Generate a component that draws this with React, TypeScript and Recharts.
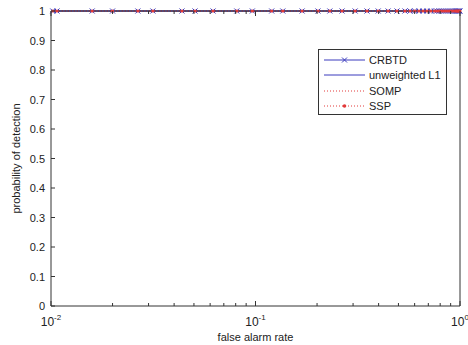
import React from 'react';
import { LineChart, Line, XAxis, YAxis, Legend } from 'recharts';

const falseAlarmRate = [
  0.0102, 0.0107, 0.0159, 0.02, 0.0266, 0.0315, 0.0437, 0.0506, 0.062, 0.081,
  0.0965, 0.12, 0.136, 0.169, 0.202, 0.231, 0.265, 0.307, 0.351, 0.398,
  0.445, 0.492, 0.538, 0.57, 0.6, 0.63, 0.66, 0.69, 0.72, 0.75,
  0.77, 0.79, 0.81, 0.83, 0.85, 0.87, 0.89, 0.91, 0.93, 0.95,
  0.96, 0.97, 0.98, 0.99, 1.0,
];

const crbtd = [
  1, 1, 1, 1, 1, 1, 1, 1, 1, 1,
  1, 1, 1, 1, 1, 1, 1, 1, 1, 1,
  1, 1, 1, 1, 1, 1, 1, 1, 1, 1,
  1, 1, 1, 1, 1, 1, 1, 1, 1, 1,
  1, 1, 1, 1, 1,
];
const unweightedL1 = [
  1, 1, 1, 1, 1, 1, 1, 1, 1, 1,
  1, 1, 1, 1, 1, 1, 1, 1, 1, 1,
  1, 1, 1, 1, 1, 1, 1, 1, 1, 1,
  1, 1, 1, 1, 1, 1, 1, 1, 1, 1,
  1, 1, 1, 1, 1,
];
const somp = [
  1, 1, 1, 1, 1, 1, 1, 1, 1, 1,
  1, 1, 1, 1, 1, 1, 1, 1, 1, 1,
  1, 1, 1, 1, 1, 1, 1, 1, 1, 1,
  1, 1, 1, 1, 1, 1, 1, 1, 1, 1,
  1, 1, 1, 1, 1,
];
const ssp = [
  1, 1, 1, 1, 1, 1, 1, 1, 1, 1,
  1, 1, 1, 1, 1, 1, 1, 1, 1, 1,
  1, 1, 1, 1, 1, 1, 1, 1, 1, 1,
  1, 1, 1, 1, 1, 1, 1, 1, 1, 1,
  1, 1, 1, 1, 1,
];

const xTicks = [
  0.01, 0.02, 0.03, 0.04, 0.05, 0.06, 0.07, 0.08, 0.09,
  0.1, 0.2, 0.3, 0.4, 0.5, 0.6, 0.7, 0.8, 0.9, 1,
];
const xMajor = [0.01, 0.1, 1];
const xExponents = ['-2', '-1', '0'];
const yTicks = [0, 0.1, 0.2, 0.3, 0.4, 0.5, 0.6, 0.7, 0.8, 0.9, 1];
const yLabels = ['0', '0.1', '0.2', '0.3', '0.4', '0.5', '0.6', '0.7', '0.8', '0.9', '1'];

const data = falseAlarmRate.map((far, i) => ({
  far,
  CRBTD: crbtd[i],
  'unweighted L1': unweightedL1[i],
  SOMP: somp[i],
  SSP: ssp[i],
}));

const FONT = '"Liberation Sans", Arial, sans-serif';
const AXIS = '#333';
const BLUE = '#3b3bbd';
const RED = '#e23a3a';

const BottomTick = (props: any) => {
  const { x, y, payload } = props;
  const idx = xMajor.indexOf(payload.value);
  return (
    <g>
      <line x1={x} x2={x} y1={y} y2={y - (idx >= 0 ? 5 : 3)} stroke={AXIS} />
      {idx >= 0 && (
        <text x={x} y={y + 20} textAnchor="middle" fontFamily={FONT} fontSize={12} fill="#222">
          10<tspan dy={-6} fontSize={8}>{xExponents[idx]}</tspan>
        </text>
      )}
    </g>
  );
};

const TopTick = (props: any) => {
  const { x, y, payload } = props;
  const major = xMajor.indexOf(payload.value) >= 0;
  return <line x1={x} x2={x} y1={y} y2={y + (major ? 5 : 3)} stroke={AXIS} />;
};

const LeftTick = (props: any) => {
  const { x, y, payload } = props;
  const idx = yTicks.indexOf(payload.value);
  return (
    <g>
      <line x1={x} x2={x + 4} y1={y} y2={y} stroke={AXIS} />
      <text x={x - 6} y={y + 4} textAnchor="end" fontFamily={FONT} fontSize={11} fill="#222">
        {yLabels[idx]}
      </text>
    </g>
  );
};

const RightTick = (props: any) => {
  const { x, y } = props;
  return <line x1={x} x2={x - 4} y1={y} y2={y} stroke={AXIS} />;
};

const CrossDot = (props: any) => {
  const { cx, cy, index } = props;
  return (
    <path
      key={`x-${index}`}
      d={`M${cx - 2.5},${cy - 2.5}L${cx + 2.5},${cy + 2.5}M${cx - 2.5},${cy + 2.5}L${cx + 2.5},${cy - 2.5}`}
      stroke={BLUE}
      strokeWidth={1}
    />
  );
};

const RedDot = (props: any) => {
  const { cx, cy, index } = props;
  return <circle key={`d-${index}`} cx={cx} cy={cy} r={1.6} fill={RED} stroke="none" />;
};

const legendRows = [
  { name: 'CRBTD', color: BLUE, dash: undefined, marker: 'x' },
  { name: 'unweighted L1', color: BLUE, dash: undefined, marker: '' },
  { name: 'SOMP', color: RED, dash: '1 2', marker: '' },
  { name: 'SSP', color: RED, dash: '1 2', marker: 'dot' },
];

const LegendBox = () => (
  <div
    style={{
      border: '1px solid #333',
      background: '#fff',
      width: 129,
      height: 66,
      boxSizing: 'border-box',
      padding: '2px 0 0 4px',
      fontFamily: FONT,
      fontSize: 11,
      color: '#222',
    }}
  >
    {legendRows.map((r) => (
      <div key={r.name} style={{ display: 'flex', alignItems: 'center', height: 15.5 }}>
        <svg width={46} height={10} style={{ display: 'block' }}>
          <line x1={1} x2={42} y1={5} y2={5} stroke={r.color} strokeDasharray={r.dash} />
          {r.marker === 'x' && (
            <path d="M19,2.5L24,7.5M19,7.5L24,2.5" stroke={r.color} />
          )}
          {r.marker === 'dot' && <circle cx={21.5} cy={5} r={1.8} fill={r.color} />}
        </svg>
        <span style={{ lineHeight: '12px' }}>{r.name}</span>
      </div>
    ))}
  </div>
);

export default function App() {
  return (
    <div style={{ position: 'fixed', left: 0, top: 0, width: 468, height: 345, background: '#fff' }}>
      <LineChart width={468} height={345} data={data} margin={{ top: 0, right: 0, bottom: 0, left: 0 }}>
        <XAxis
          xAxisId="bottom"
          dataKey="far"
          type="number"
          scale="log"
          domain={[0.01, 1]}
          ticks={xTicks}
          interval={0}
          height={39}
          tickSize={0}
          tickMargin={0}
          tickLine={false}
          tick={<BottomTick />}
          axisLine={{ stroke: AXIS }}
          label={{ value: 'false alarm rate', position: 'insideBottom', offset: 4, fontFamily: FONT, fontSize: 11, fill: '#222' }}
        />
        <XAxis
          xAxisId="top"
          orientation="top"
          dataKey="far"
          type="number"
          scale="log"
          domain={[0.01, 1]}
          ticks={xTicks}
          interval={0}
          height={11}
          tickSize={0}
          tickMargin={0}
          tickLine={false}
          tick={<TopTick />}
          axisLine={{ stroke: AXIS }}
        />
        <YAxis
          yAxisId="left"
          type="number"
          domain={[0, 1]}
          ticks={yTicks}
          interval={0}
          width={51}
          tickSize={0}
          tickMargin={0}
          tickLine={false}
          tick={<LeftTick />}
          axisLine={{ stroke: AXIS }}
          label={{ value: 'probability of detection', angle: -90, position: 'insideLeft', offset: 16, fontFamily: FONT, fontSize: 11, fill: '#222', style: { textAnchor: 'middle' } }}
        />
        <YAxis
          yAxisId="right"
          orientation="right"
          type="number"
          domain={[0, 1]}
          ticks={yTicks}
          interval={0}
          width={8}
          tickSize={0}
          tickMargin={0}
          tickLine={false}
          tick={<RightTick />}
          axisLine={{ stroke: AXIS }}
        />
        <Line xAxisId="bottom" yAxisId="left" dataKey="CRBTD" stroke={BLUE} strokeWidth={1} dot={<CrossDot />} isAnimationActive={false} />
        <Line xAxisId="bottom" yAxisId="left" dataKey="unweighted L1" stroke={BLUE} strokeWidth={1} dot={false} isAnimationActive={false} />
        <Line xAxisId="bottom" yAxisId="left" dataKey="SOMP" stroke={RED} strokeWidth={1} strokeDasharray="1 2" dot={false} isAnimationActive={false} />
        <Line xAxisId="bottom" yAxisId="left" dataKey="SSP" stroke={RED} strokeWidth={1} strokeDasharray="1 2" dot={<RedDot />} isAnimationActive={false} />
        <Legend
          layout="vertical"
          align="center"
          verticalAlign="middle"
          content={<LegendBox />}
          wrapperStyle={{ left: 318, top: 49, width: 130, height: 68 }}
        />
      </LineChart>
    </div>
  );
}
